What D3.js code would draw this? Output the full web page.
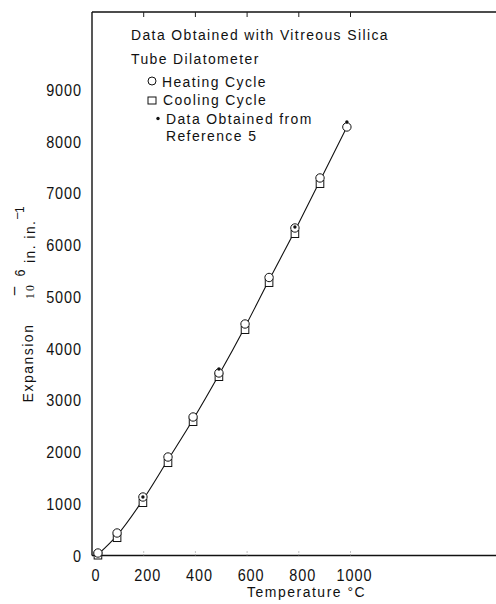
<!DOCTYPE html>
<html><head><meta charset="utf-8">
<script src="https://cdn.jsdelivr.net/npm/d3@7"></script>
<style>
html,body{margin:0;padding:0;background:#fff;}
svg text{font-family:"Liberation Sans",Arial,sans-serif;fill:#111;}
</style></head>
<body><svg id="c" width="496" height="604"></svg>
<script>
// ---- data ----
const heatT   = [23, 97, 197, 294, 391, 491, 592, 685, 785, 882, 986];
const heatE   = [48, 435, 1131, 1904, 2678, 3529, 4476, 5375, 6332, 7299, 8285];
const coolT   = [23, 97, 197, 294, 391, 491, 592, 685, 785, 882];
const coolE   = [0, 338, 1015, 1788, 2581, 3451, 4360, 5269, 6216, 7183];
const refT    = [197, 491, 785, 986];
const refE    = [1131, 3606, 6352, 8382];
const curveT  = [23, 97, 197, 294, 391, 491, 592, 685, 785, 882, 986];
const curveE  = [20, 390, 1075, 1850, 2630, 3495, 4420, 5325, 6280, 7245, 8285];
const xTicks  = [0, 200, 400, 600, 800, 1000];
const yTicks  = [0, 1000, 2000, 3000, 4000, 5000, 6000, 7000, 8000, 9000];
const legendLines = ["Data Obtained with Vitreous Silica", "Tube Dilatometer"];
const legendItems = ["Heating Cycle", "Cooling Cycle", "Data Obtained from", "Reference 5"];

const svg = d3.select("#c");
const x = d3.scaleLinear().domain([0, 1000]).range([92, 350.5]);
const y = d3.scaleLinear().domain([0, 9000]).range([555.5, 90]);
const xMax = x.invert(496), yMax = y.invert(12);

const SX = 0.9;
// condensed text helper
function ctext(parent, px, py, str, o = {}) {
  const rot = o.rot ? " rotate(-90)" : "";
  return parent.append("text")
    .attr("transform", `translate(${px},${py})${rot} scale(${o.sx || SX},1)`)
    .attr("text-anchor", o.anchor || "start")
    .attr("font-size", o.size || 15.5)
    .style("letter-spacing", (o.ls != null ? o.ls : 1.55) + "px")
    .style("font-family", o.family || null)
    .text(str);
}

// frame
const frame = svg.append("g").attr("stroke", "#111").attr("fill", "none");
frame.append("line").attr("x1", x(0)).attr("x2", x(0)).attr("y1", y(yMax)).attr("y2", y(0)).attr("stroke-width", 1.4);
frame.append("line").attr("x1", x(0)).attr("x2", x(xMax)).attr("y1", y(yMax)).attr("y2", y(yMax)).attr("stroke-width", 1.4);
frame.append("line").attr("x1", x(0)).attr("x2", x(xMax)).attr("y1", y(0)).attr("y2", y(0)).attr("stroke-width", 1.6);

// x ticks (inward, top and bottom)
const tk = xTicks.filter(d => d > 0);
svg.append("g").selectAll("line").data(tk).join("line")
  .attr("x1", d => x(d)).attr("x2", d => x(d)).attr("y1", y(yMax)).attr("y2", y(yMax) + 5)
  .attr("stroke", "#222").attr("stroke-width", 1);
svg.append("g").selectAll("line").data(tk).join("line")
  .attr("x1", d => x(d)).attr("x2", d => x(d)).attr("y1", y(0)).attr("y2", y(0) - 4)
  .attr("stroke", "#888").attr("stroke-width", 1).attr("stroke-dasharray", "1,2");

// x tick labels
const gx = svg.append("g");
xTicks.forEach(d => ctext(gx, x(d) + 4, 581, d, {anchor: "middle", size: 17, sx: 0.85, ls: 1.1}));

// y tick labels
const gy = svg.append("g");
yTicks.forEach(d => ctext(gy, 82, y(d) + 6, d, {anchor: "end", size: 17, sx: 0.85, ls: 1.1}));

// x title
ctext(svg, 247, 597, "Temperature °C", {ls: 1.7});

// y title (rotated)
ctext(svg, 33, 363, "Expansion", {rot: true, anchor: "middle", ls: 1.7});
ctext(svg, 34, 291, "10", {rot: true, anchor: "middle", size: 13, ls: 2.5, family: "'Liberation Serif',serif"});
ctext(svg, 19, 291, "\u2013", {rot: true, anchor: "middle", size: 17, ls: 0});
ctext(svg, 25, 273, "6", {rot: true, anchor: "middle", size: 14, ls: 0});
ctext(svg, 35, 263, "in. in.", {rot: true, ls: 1.6});
ctext(svg, 21, 219, "\u2013", {rot: true, size: 13, ls: 0});
ctext(svg, 24, 213, "1", {rot: true, size: 13, ls: 0});

// curve
const pts = curveT.map((t, i) => [t, curveE[i]]);
svg.append("path").datum(pts)
  .attr("d", d3.line().x(d => x(d[0])).y(d => y(d[1])).curve(d3.curveMonotoneX))
  .attr("fill", "none").attr("stroke", "#111").attr("stroke-width", 1.1);

// cooling squares
svg.append("g").selectAll("rect").data(coolT.map((t, i) => [t, coolE[i]])).join("rect")
  .attr("x", d => x(d[0]) - 3.8).attr("y", d => y(d[1]) - 3.5)
  .attr("width", 7.6).attr("height", 7)
  .attr("fill", "#fff").attr("stroke", "#111").attr("stroke-width", 1);

// heating circles
svg.append("g").selectAll("circle").data(heatT.map((t, i) => [t, heatE[i]])).join("circle")
  .attr("cx", d => x(d[0])).attr("cy", d => y(d[1])).attr("r", 4.2)
  .attr("fill", "#fff").attr("stroke", "#111").attr("stroke-width", 1);

// reference dots
svg.append("g").selectAll("circle").data(refT.map((t, i) => [t, refE[i]])).join("circle")
  .attr("cx", d => x(d[0])).attr("cy", d => y(d[1])).attr("r", 1.7)
  .attr("fill", "#111");

// legend
const lg = svg.append("g");
legendLines.forEach((s, i) => ctext(lg, 131, [40, 64][i], s));
legendItems.forEach((s, i) => ctext(lg, [162, 163, 166, 166][i], [87, 105, 124, 141][i], s));
lg.append("circle").attr("cx", 152).attr("cy", 81).attr("r", 4)
  .attr("fill", "#fff").attr("stroke", "#111").attr("stroke-width", 1);
lg.append("rect").attr("x", 148).attr("y", 97).attr("width", 8).attr("height", 7)
  .attr("fill", "#fff").attr("stroke", "#111").attr("stroke-width", 1);
lg.append("circle").attr("cx", 158).attr("cy", 118.5).attr("r", 1.7).attr("fill", "#111");
</script></body></html>
